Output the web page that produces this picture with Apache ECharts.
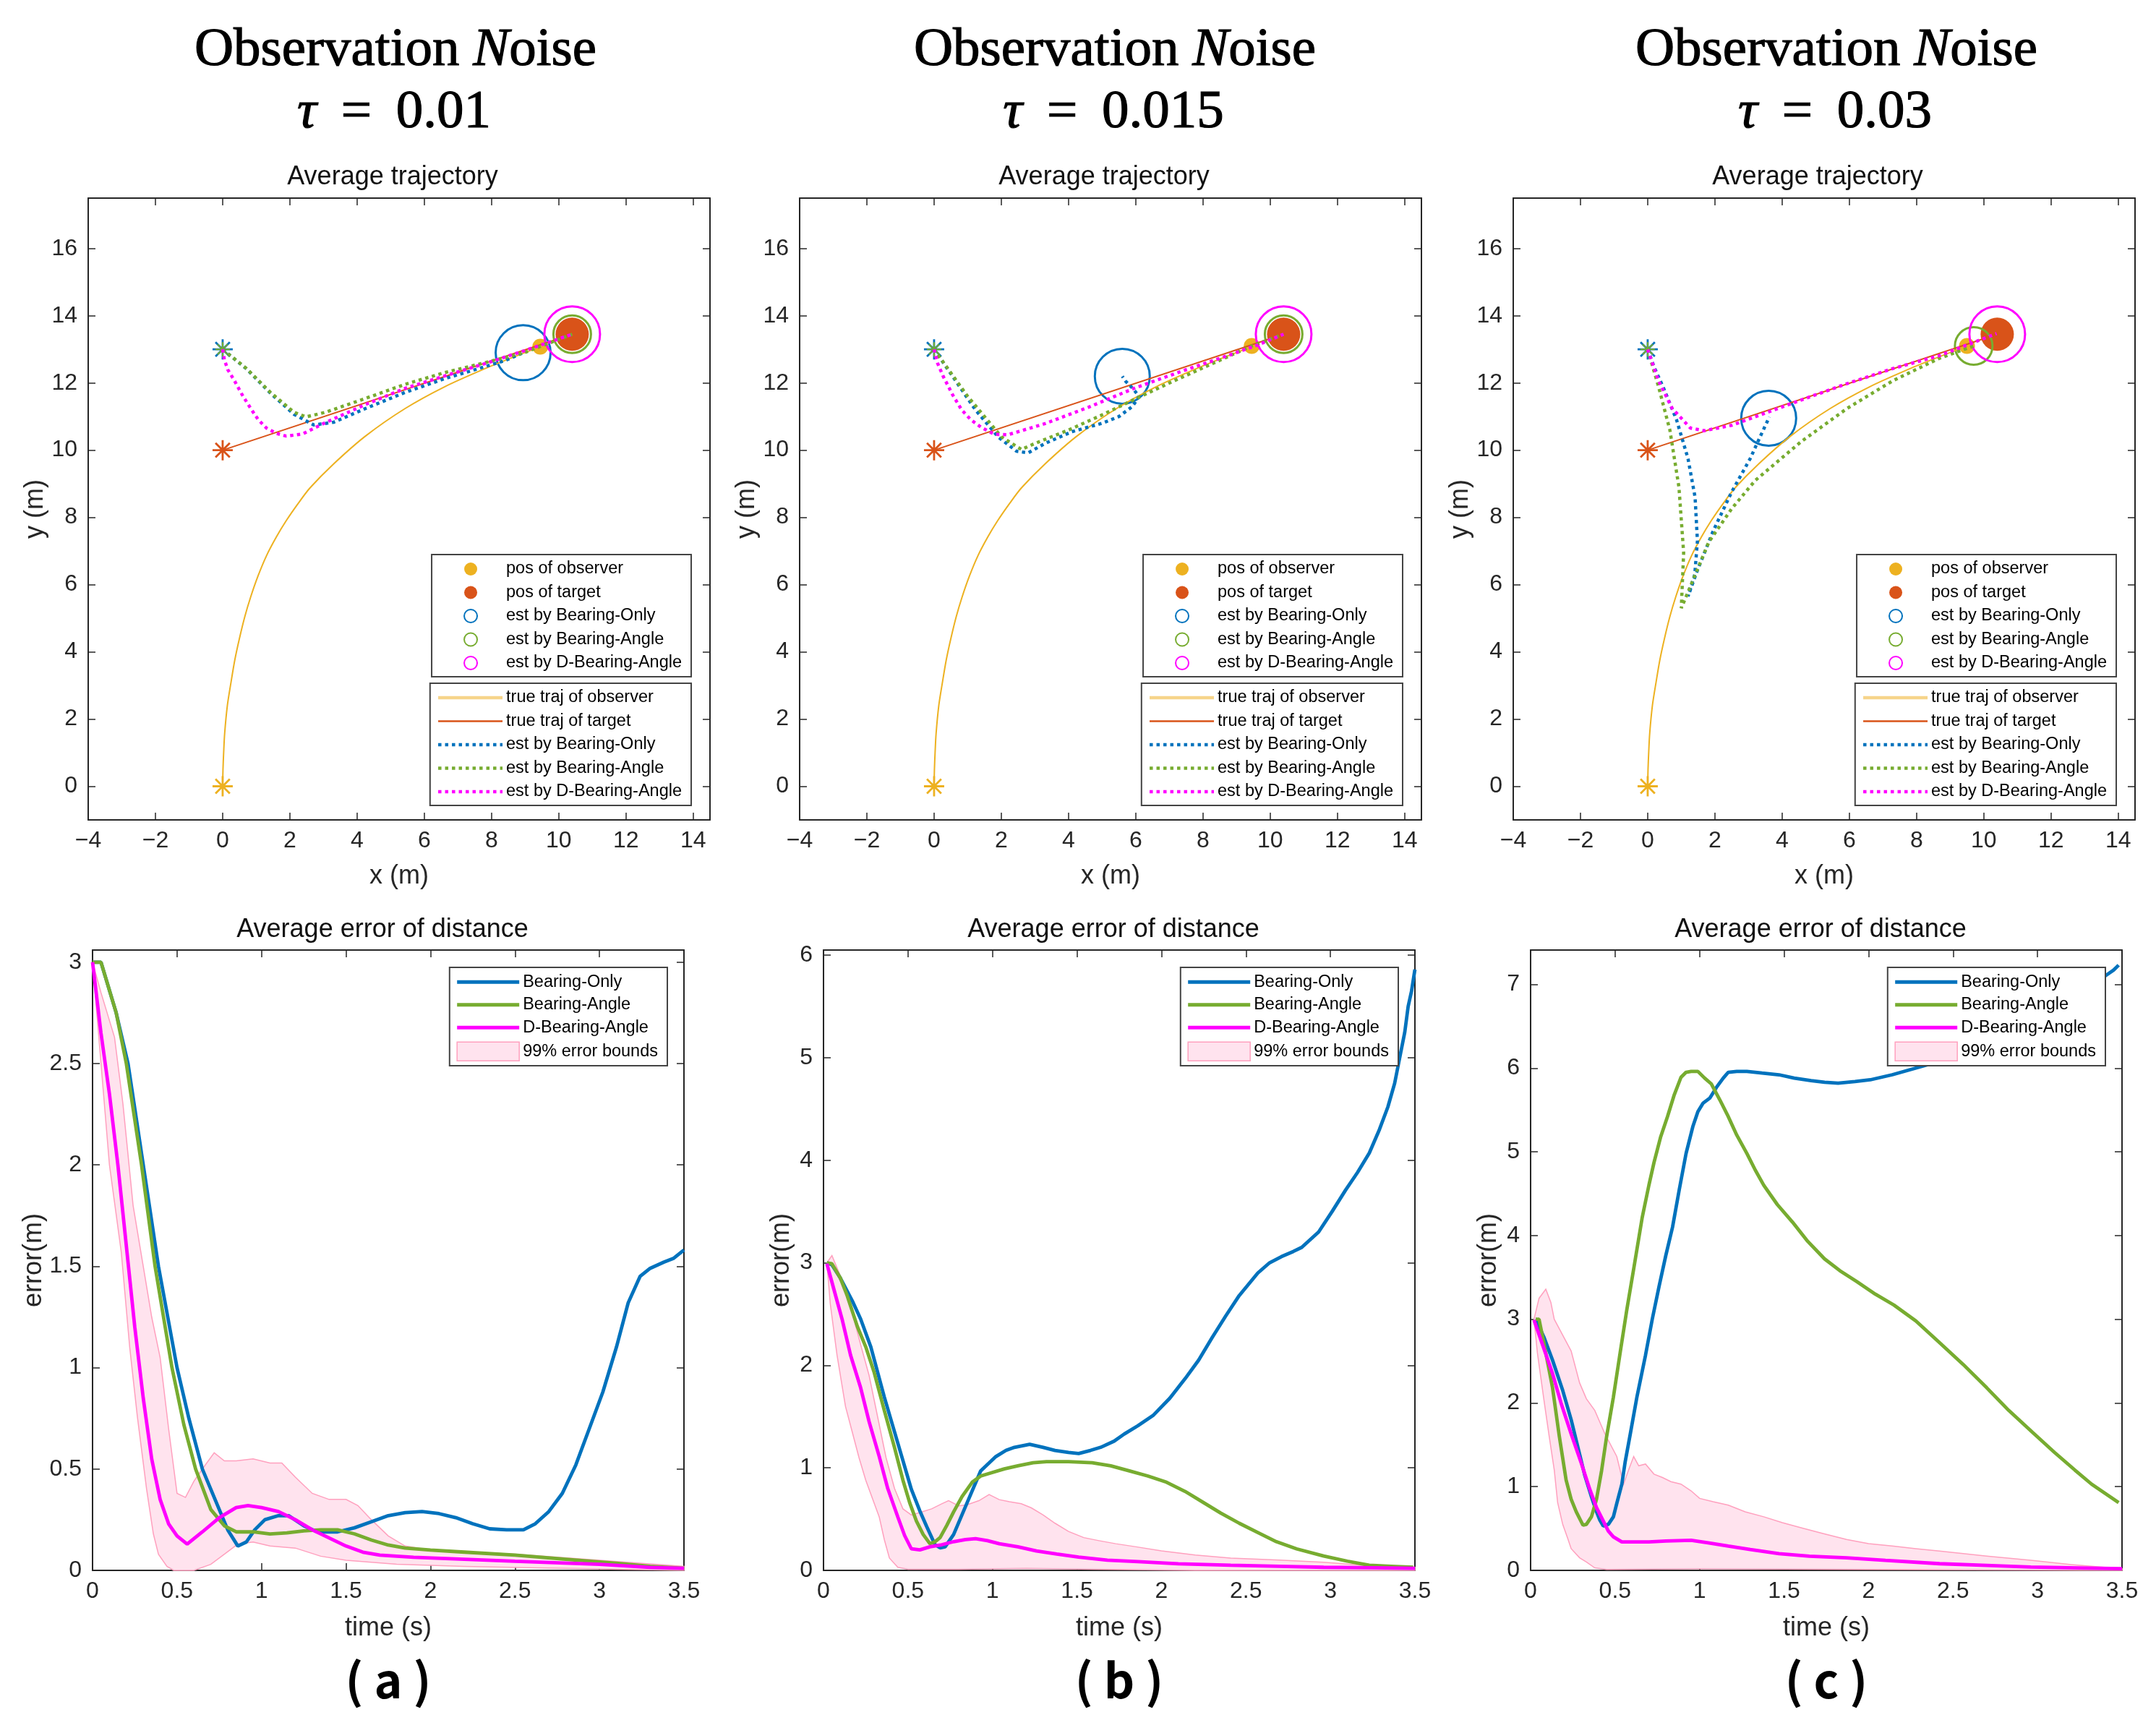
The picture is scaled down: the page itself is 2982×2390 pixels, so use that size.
<!DOCTYPE html>
<html>

<head>
    <meta charset="utf-8" />
    <script src="https://cdn.jsdelivr.net/npm/echarts@6/dist/echarts.min.js"></script>
    <style>
        html, body { margin: 0; background: #fff; }
        #main { width: 2982px; height: 2390px; }
    </style>
</head>

<body>
    <div id="main"></div>
    <script>
        // ---- data ----
        var tauLabels = ['0.01', '0.015', '0.03'];
        var panelLabels = ['( a )', '( b )', '( c )'];

        var trajXTicks = [-4, -2, 0, 2, 4, 6, 8, 10, 12, 14];
        var trajYTicks = [0, 2, 4, 6, 8, 10, 12, 14, 16];
        var timeTicks = [0, 0.5, 1, 1.5, 2, 2.5, 3, 3.5];
        var errTicks = [
            [0, 0.5, 1, 1.5, 2, 2.5, 3],
            [0, 1, 2, 3, 4, 5, 6],
            [0, 1, 2, 3, 4, 5, 6, 7]
        ];
        var errMax = [3.06, 6.05, 7.41];

        // true trajectories (same in all three runs)
        var obsTraj = [[0, 0], [0.01, 0.5], [0.03, 1], [0.06, 1.57], [0.14, 2.4], [0.25, 3.1], [0.36, 3.75], [0.5, 4.4],
            [0.66, 5.05], [0.83, 5.62], [1.05, 6.25], [1.3, 6.85], [1.6, 7.42], [1.89, 7.9], [2.25, 8.42], [2.6, 8.88],
            [3.3, 9.59], [4.25, 10.42], [5.43, 11.24], [6.61, 11.89], [7.79, 12.42], [8.6, 12.75], [9.45, 13.08]];
        var tgtTraj = [[0, 10], [10.4, 13.45]];

        // estimated trajectories, tau = 0.01 / 0.015 / 0.03
        var estBO = [
            [[0, 13], [0.71, 12.42], [1.42, 11.7], [2.12, 11.07], [2.71, 10.75], [3.3, 10.83], [4.25, 11.24],
                [5.43, 11.72], [6.61, 12.13], [7.79, 12.48], [8.38, 12.66], [8.94, 12.9]],
            [[0, 13], [0.55, 12.2], [1.23, 11.2], [1.9, 10.4], [2.45, 9.97], [2.8, 9.92], [3.3, 10.2], [4.1, 10.55],
                [5.0, 10.8], [5.5, 11.0], [5.9, 11.3], [6.1, 11.6], [5.9, 11.85], [5.7, 12.05], [5.6, 12.2]],
            [[0, 13], [0.2, 12.45], [0.45, 11.9], [0.86, 10.9], [1.2, 9.75], [1.41, 8.6], [1.48, 7.3], [1.4, 6.3],
                [1.2, 5.65], [1.45, 6.35], [1.95, 7.6], [2.5, 8.76], [3.05, 9.75], [3.3, 10.3], [3.62, 10.99]]
        ];
        var estBA = [
            [[0, 13], [0.71, 12.43], [1.42, 11.72], [2.12, 11.13], [2.48, 10.99], [3.07, 11.13], [4.25, 11.54],
                [5.43, 11.96], [6.61, 12.31], [7.79, 12.6], [8.97, 12.9], [9.44, 13.08], [10.4, 13.45]],
            [[0, 13], [0.5, 12.3], [1.0, 11.6], [1.5, 11.0], [2.0, 10.4], [2.6, 10.02], [3.0, 10.2], [4.0, 10.6],
                [5.0, 11.05], [6.0, 11.53], [7.0, 12.0], [8.0, 12.45], [9.0, 12.9], [9.45, 13.1], [10.4, 13.45]],
            [[0, 13], [0.32, 11.9], [0.66, 10.6], [0.93, 8.9], [1.07, 6.95], [1.0, 5.3], [1.27, 5.95], [1.82, 7.27],
                [2.5, 8.26], [3.2, 9.1], [4.56, 10.25], [5.93, 11.24], [7.3, 12.07], [8.67, 12.73], [9.7, 13.1]]
        ];
        var estDBA = [
            [[0, 13], [0.05, 12.7], [0.15, 12.4], [0.35, 12.07], [0.58, 11.65], [0.83, 11.25], [1.05, 10.92],
                [1.3, 10.66], [1.6, 10.5], [1.89, 10.42], [2.37, 10.48], [3.08, 10.83], [4.25, 11.36], [5.43, 11.84],
                [6.61, 12.21], [7.79, 12.57], [8.98, 12.96], [10.4, 13.45]],
            [[0, 13], [0.1, 12.6], [0.27, 12.2], [0.55, 11.65], [0.82, 11.2], [1.1, 10.9], [1.4, 10.68], [1.8, 10.47],
                [2.2, 10.46], [3.3, 10.79], [4.6, 11.28], [6.0, 11.86], [7.4, 12.36], [8.7, 12.8], [9.6, 13.12], [10.4, 13.45]],
            [[0, 13], [0.32, 12.07], [0.73, 11.24], [1.27, 10.66], [1.68, 10.58], [2.5, 10.74], [3.19, 10.99],
                [4.56, 11.49], [5.93, 11.98], [7.3, 12.43], [8.67, 12.81], [10.38, 13.47]]
        ];

        // start points and final positions
        var startEst = [0, 13];
        var startTgt = [0, 10];
        var startObs = [0, 0];
        var obsPos = [[9.45, 13.08], [9.45, 13.1], [9.5, 13.1]];
        var tgtPos = [[10.4, 13.45], [10.4, 13.45], [10.4, 13.45]];
        var posBO = [[8.94, 12.9], [5.6, 12.2], [3.6, 10.95]];
        var posBA = [[10.4, 13.45], [10.4, 13.45], [9.7, 13.1]];
        var posDBA = [[10.4, 13.45], [10.4, 13.45], [10.4, 13.45]];

        // average error of distance
        var errBO = [
            [[0, 3], [0.05, 3], [0.14, 2.75], [0.21, 2.5], [0.3, 2.0], [0.39, 1.5], [0.5, 1.0], [0.57, 0.75], [0.65, 0.5],
                [0.75, 0.3], [0.8, 0.2], [0.86, 0.12], [0.91, 0.14], [0.96, 0.2], [1.02, 0.25], [1.1, 0.27], [1.16, 0.27],
                [1.25, 0.22], [1.33, 0.19], [1.45, 0.19], [1.55, 0.21], [1.65, 0.24], [1.75, 0.27], [1.85, 0.285],
                [1.95, 0.29], [2.05, 0.28], [2.15, 0.26], [2.25, 0.23], [2.35, 0.205], [2.45, 0.2], [2.55, 0.2],
                [2.62, 0.23], [2.7, 0.29], [2.78, 0.38], [2.86, 0.52], [2.94, 0.7], [3.02, 0.88], [3.1, 1.1],
                [3.17, 1.32], [3.24, 1.45], [3.3, 1.49], [3.38, 1.52], [3.44, 1.54], [3.5, 1.58]],
            [[0.02, 3], [0.05, 2.98], [0.1, 2.85], [0.17, 2.63], [0.22, 2.45], [0.28, 2.18], [0.36, 1.69], [0.44, 1.24],
                [0.52, 0.79], [0.57, 0.58], [0.61, 0.43], [0.66, 0.25], [0.69, 0.22], [0.72, 0.23], [0.77, 0.35],
                [0.85, 0.66], [0.93, 0.97], [1.02, 1.11], [1.08, 1.17], [1.13, 1.2], [1.22, 1.23], [1.3, 1.2],
                [1.37, 1.17], [1.45, 1.15], [1.51, 1.14], [1.58, 1.17], [1.64, 1.2], [1.72, 1.26], [1.78, 1.33],
                [1.86, 1.41], [1.95, 1.51], [2.05, 1.68], [2.14, 1.87], [2.22, 2.05], [2.3, 2.27], [2.38, 2.48],
                [2.46, 2.68], [2.57, 2.9], [2.64, 3.0], [2.71, 3.06], [2.78, 3.11], [2.83, 3.15], [2.93, 3.3],
                [3.01, 3.5], [3.09, 3.71], [3.16, 3.88], [3.23, 4.07], [3.29, 4.3], [3.34, 4.52], [3.38, 4.75],
                [3.41, 5.0], [3.44, 5.25], [3.46, 5.5], [3.48, 5.65], [3.5, 5.86]],
            [[0.03, 3.0], [0.08, 2.78], [0.13, 2.51], [0.19, 2.15], [0.24, 1.8], [0.28, 1.47], [0.32, 1.14], [0.36, 0.88],
                [0.39, 0.7], [0.41, 0.6], [0.43, 0.53], [0.46, 0.55], [0.49, 0.64], [0.51, 0.8], [0.54, 1.03],
                [0.56, 1.3], [0.59, 1.63], [0.63, 2.08], [0.68, 2.57], [0.72, 3.0], [0.76, 3.39], [0.8, 3.76],
                [0.84, 4.1], [0.88, 4.55], [0.92, 4.98], [0.96, 5.3], [0.99, 5.48], [1.02, 5.58], [1.06, 5.64],
                [1.1, 5.77], [1.14, 5.88], [1.17, 5.95], [1.22, 5.96], [1.28, 5.96], [1.37, 5.94], [1.47, 5.92],
                [1.56, 5.88], [1.66, 5.85], [1.74, 5.83], [1.82, 5.82], [1.92, 5.84], [2.01, 5.86], [2.14, 5.92],
                [2.28, 6.0], [2.42, 6.08], [2.6, 6.2], [2.8, 6.38], [3.0, 6.55], [3.2, 6.78], [3.33, 6.95],
                [3.4, 7.1], [3.45, 7.17], [3.48, 7.23]]
        ];
        var errBA = [
            [[0, 3], [0.05, 3], [0.14, 2.75], [0.2, 2.5], [0.29, 2.0], [0.37, 1.5], [0.47, 1.0], [0.54, 0.72], [0.61, 0.5],
                [0.7, 0.3], [0.78, 0.22], [0.85, 0.19], [0.95, 0.19], [1.05, 0.18], [1.15, 0.185], [1.25, 0.195],
                [1.35, 0.2], [1.45, 0.2], [1.55, 0.18], [1.65, 0.15], [1.75, 0.125], [1.85, 0.11], [2.0, 0.1],
                [2.2, 0.09], [2.5, 0.075], [2.8, 0.055], [3.1, 0.035], [3.3, 0.02], [3.5, 0.01]],
            [[0.02, 3], [0.05, 2.99], [0.1, 2.85], [0.14, 2.68], [0.2, 2.38], [0.25, 2.18], [0.3, 1.93], [0.36, 1.56],
                [0.42, 1.2], [0.47, 0.88], [0.51, 0.66], [0.55, 0.48], [0.59, 0.35], [0.63, 0.26], [0.66, 0.28],
                [0.69, 0.32], [0.73, 0.44], [0.77, 0.57], [0.82, 0.72], [0.88, 0.86], [0.93, 0.92], [0.99, 0.95],
                [1.07, 0.99], [1.15, 1.02], [1.24, 1.05], [1.32, 1.06], [1.45, 1.06], [1.59, 1.05], [1.7, 1.02],
                [1.81, 0.97], [1.92, 0.92], [2.03, 0.86], [2.14, 0.77], [2.25, 0.66], [2.35, 0.56], [2.46, 0.46],
                [2.57, 0.37], [2.68, 0.28], [2.8, 0.21], [2.96, 0.14], [3.1, 0.09], [3.23, 0.05], [3.36, 0.04],
                [3.49, 0.03]],
            [[0.03, 3.0], [0.05, 3.0], [0.08, 2.7], [0.13, 2.18], [0.17, 1.6], [0.21, 1.08], [0.24, 0.85], [0.27, 0.7],
                [0.31, 0.54], [0.33, 0.55], [0.36, 0.64], [0.39, 0.85], [0.42, 1.19], [0.45, 1.6], [0.49, 2.07],
                [0.53, 2.6], [0.57, 3.12], [0.61, 3.6], [0.66, 4.21], [0.7, 4.6], [0.73, 4.87], [0.77, 5.18],
                [0.81, 5.42], [0.85, 5.68], [0.89, 5.89], [0.92, 5.95], [0.95, 5.96], [0.99, 5.96], [1.03, 5.88],
                [1.07, 5.81], [1.12, 5.62], [1.17, 5.42], [1.22, 5.2], [1.28, 4.98], [1.33, 4.78], [1.38, 4.6],
                [1.46, 4.37], [1.55, 4.16], [1.64, 3.93], [1.74, 3.72], [1.83, 3.58], [1.93, 3.45], [2.04, 3.3],
                [2.15, 3.17], [2.28, 2.98], [2.42, 2.72], [2.56, 2.46], [2.7, 2.18], [2.83, 1.91], [2.97, 1.65],
                [3.1, 1.41], [3.22, 1.2], [3.32, 1.03], [3.4, 0.92], [3.48, 0.81]]
        ];
        var errDBA = [
            [[0, 3], [0.05, 2.65], [0.1, 2.35], [0.15, 2.0], [0.2, 1.6], [0.25, 1.2], [0.3, 0.85], [0.35, 0.55],
                [0.4, 0.35], [0.45, 0.23], [0.5, 0.17], [0.56, 0.13], [0.65, 0.19], [0.75, 0.26], [0.85, 0.31],
                [0.92, 0.32], [1.0, 0.31], [1.1, 0.29], [1.2, 0.25], [1.3, 0.2], [1.4, 0.16], [1.5, 0.12], [1.6, 0.09],
                [1.7, 0.075], [1.9, 0.065], [2.2, 0.055], [2.5, 0.045], [3.0, 0.03], [3.3, 0.015], [3.5, 0.01]],
            [[0.02, 2.99], [0.06, 2.75], [0.11, 2.45], [0.16, 2.1], [0.22, 1.78], [0.27, 1.45], [0.33, 1.11], [0.38, 0.8],
                [0.44, 0.52], [0.48, 0.34], [0.52, 0.21], [0.57, 0.2], [0.63, 0.23], [0.7, 0.25], [0.77, 0.28],
                [0.84, 0.3], [0.9, 0.31], [0.97, 0.29], [1.04, 0.26], [1.15, 0.23], [1.26, 0.19], [1.38, 0.16],
                [1.51, 0.13], [1.68, 0.1], [1.86, 0.085], [2.1, 0.065], [2.41, 0.05], [2.7, 0.04], [2.96, 0.03],
                [3.25, 0.025], [3.5, 0.02]],
            [[0.02, 2.99], [0.07, 2.7], [0.13, 2.35], [0.18, 2.0], [0.24, 1.63], [0.3, 1.28], [0.35, 0.97], [0.39, 0.75],
                [0.43, 0.59], [0.46, 0.47], [0.49, 0.4], [0.54, 0.34], [0.6, 0.34], [0.7, 0.34], [0.8, 0.35],
                [0.95, 0.36], [1.05, 0.33], [1.17, 0.29], [1.3, 0.25], [1.47, 0.2], [1.65, 0.17], [1.87, 0.15],
                [2.1, 0.12], [2.42, 0.08], [2.7, 0.06], [2.96, 0.04], [3.25, 0.03], [3.5, 0.02]]
        ];
        // 99% error bounds (upper and lower edges)
        var boundUp = [
            [[0, 3], [0.05, 2.85], [0.13, 2.63], [0.18, 2.3], [0.24, 1.8], [0.3, 1.5], [0.35, 1.25], [0.4, 1.05],
                [0.45, 0.7], [0.5, 0.38], [0.55, 0.36], [0.6, 0.44], [0.65, 0.5], [0.72, 0.58], [0.78, 0.54],
                [0.85, 0.54], [0.95, 0.55], [1.05, 0.53], [1.12, 0.53], [1.2, 0.46], [1.3, 0.38], [1.4, 0.35],
                [1.5, 0.35], [1.57, 0.32], [1.65, 0.25], [1.75, 0.17], [1.85, 0.12], [2.0, 0.1], [2.5, 0.08],
                [3.0, 0.05], [3.5, 0.02]],
            [[0.02, 3], [0.05, 3.07], [0.08, 2.95], [0.13, 2.75], [0.18, 2.45], [0.22, 2.2], [0.27, 1.9], [0.32, 1.5],
                [0.37, 1.1], [0.42, 0.8], [0.47, 0.6], [0.52, 0.54], [0.58, 0.57], [0.64, 0.6], [0.7, 0.65],
                [0.74, 0.68], [0.8, 0.63], [0.85, 0.64], [0.92, 0.68], [0.98, 0.74], [1.04, 0.69], [1.1, 0.67],
                [1.17, 0.65], [1.23, 0.61], [1.3, 0.54], [1.37, 0.46], [1.45, 0.38], [1.54, 0.32], [1.63, 0.29],
                [1.73, 0.26], [1.85, 0.23], [2.0, 0.19], [2.2, 0.15], [2.41, 0.12], [2.7, 0.1], [2.96, 0.08],
                [3.2, 0.05], [3.5, 0.03]],
            [[0.02, 3.0], [0.05, 3.25], [0.09, 3.36], [0.12, 3.2], [0.14, 3.0], [0.19, 2.81], [0.24, 2.62], [0.29, 2.24],
                [0.33, 2.05], [0.38, 1.91], [0.44, 1.63], [0.51, 1.36], [0.55, 1.03], [0.58, 1.2], [0.61, 1.36],
                [0.64, 1.25], [0.68, 1.27], [0.73, 1.15], [0.78, 1.11], [0.83, 1.06], [0.89, 1.03], [0.95, 0.95],
                [1.0, 0.86], [1.08, 0.82], [1.17, 0.78], [1.27, 0.7], [1.38, 0.64], [1.49, 0.57], [1.6, 0.51],
                [1.73, 0.44], [1.87, 0.37], [2.0, 0.32], [2.15, 0.29], [2.28, 0.26], [2.42, 0.23], [2.7, 0.17],
                [2.96, 0.12], [3.2, 0.07], [3.5, 0.02]]
        ];
        var boundLo = [
            [[0, 3], [0.05, 2.5], [0.1, 2.0], [0.17, 1.57], [0.22, 1.1], [0.265, 0.76], [0.32, 0.4], [0.36, 0.18],
                [0.39, 0.08], [0.44, 0.02], [0.48, 0.0], [0.6, 0.0], [0.7, 0.03], [0.78, 0.08], [0.86, 0.13],
                [0.95, 0.14], [1.05, 0.12], [1.2, 0.11], [1.35, 0.07], [1.5, 0.05], [1.8, 0.03], [2.2, 0.02],
                [2.8, 0.01], [3.5, 0.0]],
            [[0.02, 3], [0.04, 2.6], [0.08, 2.1], [0.13, 1.6], [0.17, 1.35], [0.21, 1.1], [0.25, 0.88], [0.29, 0.7],
                [0.33, 0.52], [0.36, 0.3], [0.39, 0.12], [0.44, 0.03], [0.5, 0.01], [0.8, 0.01], [1.2, 0.02],
                [1.6, 0.01], [2.2, 0.0], [3.5, 0]],
            [[0.02, 3], [0.04, 2.6], [0.08, 2.02], [0.11, 1.6], [0.14, 1.2], [0.16, 0.81], [0.19, 0.55], [0.22, 0.38],
                [0.24, 0.26], [0.29, 0.15], [0.33, 0.1], [0.38, 0.03], [0.45, 0.01], [1.0, 0.02], [2, 0.01], [3.5, 0]]
        ];

        // ---- layout and style ----
        var W = 2982;
        var topLeft = [122, 1106, 2093], topW = 860, topTop = 274, topH = 860;
        var botLeft = [128, 1139, 2117], botW = 818, botTop = 1314, botH = 858;
        var headX = [547, 1542, 2540];
        var yNameGapBot = [60, 40, 40];

        var AX = '#262626';
        var SANS = 'Liberation Sans, Arial, sans-serif';
        var SERIF = 'Liberation Serif, Times New Roman, serif';
        var C_BLUE = '#0072BD', C_RED = '#D95319', C_YEL = '#EDB120', C_GRN = '#77AC30', C_MAG = '#FF00FF';
        var NONE = 'rgba(0,0,0,0)';
        var ASTER = 'path://M-1,-10L1,-10L1,10L-1,10Z M-10,-1L10,-1L10,1L-10,1Z ' +
            'M-7.78,-6.36L-6.36,-7.78L7.78,6.36L6.36,7.78Z M-6.36,7.78L-7.78,6.36L6.36,-7.78L7.78,-6.36Z';

        function fmt(v) {
            return String(v).replace('-', '\u2212');
        }

        function axisBase(gi, min, max, ticks) {
            return {
                type: 'value', gridIndex: gi, min: min, max: max,
                splitLine: { show: false },
                axisLine: { onZero: false, lineStyle: { color: AX, width: 2 } },
                axisTick: { inside: true, length: 10, customValues: ticks, lineStyle: { color: AX, width: 1.5 } }
            };
        }

        function labelStyle(ticks, margin) {
            return { customValues: ticks, margin: margin, fontSize: 32, fontFamily: SANS, color: AX, formatter: fmt };
        }

        var grids = [], xAxes = [], yAxes = [], series = [], legends = [], texts = [];

        function addGrid(left, top, w, h, xr, yr, xt, yt, xName, yName, xGap, yGap) {
            var gi = grids.length;
            grids.push({ left: left, top: top, width: w, height: h, outerBoundsMode: 'none' });
            var xb = axisBase(gi, xr[0], xr[1], xt);
            xb.position = 'bottom';
            xb.name = xName;
            xb.nameLocation = 'middle';
            xb.nameGap = xGap;
            xb.nameTextStyle = { fontSize: 36, fontFamily: SANS, color: AX };
            xb.axisLabel = labelStyle(xt, 13);
            var xt2 = axisBase(gi, xr[0], xr[1], xt);
            xt2.position = 'top';
            xt2.axisLabel = { show: false };
            var yl = axisBase(gi, yr[0], yr[1], yt);
            yl.position = 'left';
            yl.name = yName;
            yl.nameLocation = 'middle';
            yl.nameGap = yGap;
            yl.nameTextStyle = { fontSize: 36, fontFamily: SANS, color: AX };
            yl.axisLabel = labelStyle(yt, 15);
            var yr2 = axisBase(gi, yr[0], yr[1], yt);
            yr2.position = 'right';
            yr2.axisLabel = { show: false };
            xAxes.push(xb, xt2);
            yAxes.push(yl, yr2);
            return gi;
        }

        function line(gi, name, data, color, width, dash, smooth) {
            return {
                type: 'line', name: name, xAxisIndex: 2 * gi, yAxisIndex: 2 * gi, data: data,
                symbol: 'none', silent: true, smooth: smooth || false,
                lineStyle: { color: color, width: width, type: dash || 'solid', cap: 'butt' },
                itemStyle: { color: color }
            };
        }

        function dot(gi, name, data, size, fill, stroke) {
            return {
                type: 'scatter', name: name, xAxisIndex: 2 * gi, yAxisIndex: 2 * gi, data: data,
                symbol: 'circle', symbolSize: size, silent: true,
                itemStyle: stroke
                    ? { color: NONE, borderColor: stroke, borderWidth: 3, opacity: 1 }
                    : { color: fill, borderWidth: 0, opacity: 1 }
            };
        }

        var DOTTED = [4.5, 5];
        var topLegText = { fontSize: 23.5, fontFamily: SANS, color: '#000', lineHeight: 23.5 };
        var botLegText = { fontSize: 23.5, fontFamily: SANS, color: '#000', lineHeight: 24.5 };
        var hideDot = { color: NONE, borderColor: NONE, borderWidth: 0 };

        // ---- top row: average trajectory ----
        for (var i = 0; i < 3; i++) {
            var gi = addGrid(topLeft[i], topTop, topW, topH, [-4, 14.5], [-1, 17.5], trajXTicks, trajYTicks,
                'x (m)', 'y (m)', 60, 52);
            series.push(
                line(gi, 'true traj of observer', obsTraj, C_YEL, 2, null, 0.3),
                line(gi, 'true traj of target', tgtTraj, C_RED, 2),
                line(gi, 'est by Bearing-Only', estBO[i], C_BLUE, 4.5, DOTTED),
                line(gi, 'est by Bearing-Angle', estBA[i], C_GRN, 4.5, DOTTED),
                line(gi, 'est by D-Bearing-Angle', estDBA[i], C_MAG, 4.5, DOTTED),
                {
                    type: 'scatter', name: 'start', xAxisIndex: 2 * gi, yAxisIndex: 2 * gi, silent: true,
                    symbol: ASTER, symbolSize: 28, itemStyle: { opacity: 1 },
                    data: [
                        { value: startEst, itemStyle: { color: C_BLUE } },
                        { value: startEst, symbolSize: 20, itemStyle: { color: C_GRN } },
                        { value: startTgt, itemStyle: { color: C_RED } },
                        { value: startObs, itemStyle: { color: C_YEL } }
                    ]
                },
                dot(gi, 'pos of observer', [obsPos[i]], 22, C_YEL),
                dot(gi, 'pos of target', [tgtPos[i]], 46, C_RED),
                dot(gi, 'mk:est by Bearing-Only', [posBO[i]], 76, null, C_BLUE),
                dot(gi, 'mk:est by Bearing-Angle', [posBA[i]], 52, null, C_GRN),
                dot(gi, 'mk:est by D-Bearing-Angle', [posDBA[i]], 77, null, C_MAG)
            );
            var legRight = W - (topLeft[i] + topW - 26);
            // markers: icon box kept as wide as the circle, shifted by padding
            legends.push({
                orient: 'vertical', right: legRight, top: 767, itemWidth: 18, itemHeight: 18, itemGap: 8.5,
                padding: [8, 13, 7, 44], borderColor: '#444', borderWidth: 2, backgroundColor: '#fff',
                selectedMode: false,
                textStyle: Object.assign({ padding: [0, 0, 0, 35] }, topLegText),
                formatter: function (n) { return n.replace('mk:', ''); },
                data: [
                    { name: 'pos of observer', icon: 'circle', itemStyle: { color: C_YEL, borderWidth: 0 } },
                    { name: 'pos of target', icon: 'circle', itemStyle: { color: C_RED, borderWidth: 0 } },
                    { name: 'mk:est by Bearing-Only', icon: 'circle', itemStyle: { color: NONE, borderColor: C_BLUE, borderWidth: 2 } },
                    { name: 'mk:est by Bearing-Angle', icon: 'circle', itemStyle: { color: NONE, borderColor: C_GRN, borderWidth: 2 } },
                    { name: 'mk:est by D-Bearing-Angle', icon: 'circle', itemStyle: { color: NONE, borderColor: C_MAG, borderWidth: 2 } }
                ]
            });
            legends.push({
                orient: 'vertical', right: legRight, top: 945, itemWidth: 89, itemHeight: 18, itemGap: 8.5,
                padding: [8, 13, 7, 9], borderColor: '#444', borderWidth: 2, backgroundColor: '#fff',
                selectedMode: false, textStyle: topLegText, itemStyle: hideDot,
                data: [
                    { name: 'true traj of observer', lineStyle: { color: '#F6D48A', width: 4.5, type: 'solid' } },
                    { name: 'true traj of target', lineStyle: { color: C_RED, width: 2.5, type: 'solid' } },
                    { name: 'est by Bearing-Only', lineStyle: { color: C_BLUE, width: 4.5, type: DOTTED } },
                    { name: 'est by Bearing-Angle', lineStyle: { color: C_GRN, width: 4.5, type: DOTTED } },
                    { name: 'est by D-Bearing-Angle', lineStyle: { color: C_MAG, width: 4.5, type: DOTTED } }
                ]
            });
            var serifRich = {
                a: { fontFamily: SERIF, fontSize: 75, fill: '#000', stroke: '#000', lineWidth: 1.2 },
                n: { fontFamily: SERIF, fontSize: 75, fontStyle: 'italic', fill: '#000', stroke: '#000', lineWidth: 1.2 }
            };
            texts.push(
                {
                    type: 'text', x: headX[i], y: 70,
                    style: { text: '{a|Observation }{n|N}{a|oise}', align: 'center', verticalAlign: 'middle', rich: serifRich }
                },
                {
                    type: 'text', x: headX[i] - 2, y: 156,
                    style: { text: '{n|\u03c4}{a| \u2009= \u2009' + tauLabels[i] + '}', align: 'center', verticalAlign: 'middle', rich: serifRich }
                },
                {
                    type: 'text', x: topLeft[i] + topW / 2 - 9, y: 245,
                    style: { text: 'Average trajectory', fontFamily: SANS, fontSize: 36, fill: '#111', align: 'center', verticalAlign: 'middle' }
                }
            );
        }

        // ---- bottom row: average error of distance ----
        for (var j = 0; j < 3; j++) {
            var gb = addGrid(botLeft[j], botTop, botW, botH, [0, 3.5], [0, errMax[j]], timeTicks, errTicks[j],
                'time (s)', 'error(m)', 62, yNameGapBot[j]);
            (function (g, up, lo) {
                series.push({
                    type: 'custom', name: '99% error bounds', xAxisIndex: 2 * g, yAxisIndex: 2 * g, silent: true,
                    data: [[0, 0]],
                    renderItem: function (params, api) {
                        var pts = up.map(function (p) { return api.coord(p); })
                            .concat(lo.slice().reverse().map(function (p) { return api.coord(p); }));
                        return {
                            type: 'polygon', shape: { points: pts },
                            style: { fill: '#FFE3EE', stroke: '#FFA0BE', lineWidth: 1.5 }
                        };
                    }
                });
            })(gb, boundUp[j], boundLo[j]);
            series.push(
                line(gb, 'Bearing-Only', errBO[j], C_BLUE, 4.8),
                line(gb, 'Bearing-Angle', errBA[j], C_GRN, 4.8),
                line(gb, 'D-Bearing-Angle', errDBA[j], C_MAG, 4.8)
            );
            legends.push({
                orient: 'vertical', right: W - (botLeft[j] + botW - 23), top: 1338,
                itemWidth: 86, itemHeight: 26, itemGap: 7, padding: [8, 13, 6, 8],
                borderColor: '#444', borderWidth: 2, backgroundColor: '#fff', selectedMode: false,
                textStyle: botLegText, itemStyle: hideDot,
                data: [
                    { name: 'Bearing-Only', lineStyle: { color: C_BLUE, width: 4.8 } },
                    { name: 'Bearing-Angle', lineStyle: { color: C_GRN, width: 4.8 } },
                    { name: 'D-Bearing-Angle', lineStyle: { color: C_MAG, width: 4.8 } },
                    { name: '99% error bounds', icon: 'rect', itemStyle: { color: '#FFE3EE', borderColor: '#FFA0BE', borderWidth: 1.5 } }
                ]
            });
            var bx = botLeft[j] + botW / 2;
            texts.push(
                {
                    type: 'text', x: bx - 8, y: 1286,
                    style: { text: 'Average error of distance', fontFamily: SANS, fontSize: 36, fill: '#111', align: 'center', verticalAlign: 'middle' }
                },
                {
                    type: 'text', x: bx, y: 2324,
                    style: { text: panelLabels[j], fontFamily: 'Noto Sans CJK SC', fontWeight: 'bold', fontSize: 66, fill: '#000', align: 'center', verticalAlign: 'middle' }
                }
            );
        }

        var myChart = echarts.init(document.getElementById('main'), null, { renderer: 'canvas' });
        myChart.setOption({
            animation: false,
            backgroundColor: '#fff',
            grid: grids,
            xAxis: xAxes,
            yAxis: yAxes,
            legend: legends,
            series: series,
            graphic: { elements: texts }
        });
    </script>
</body>

</html>
